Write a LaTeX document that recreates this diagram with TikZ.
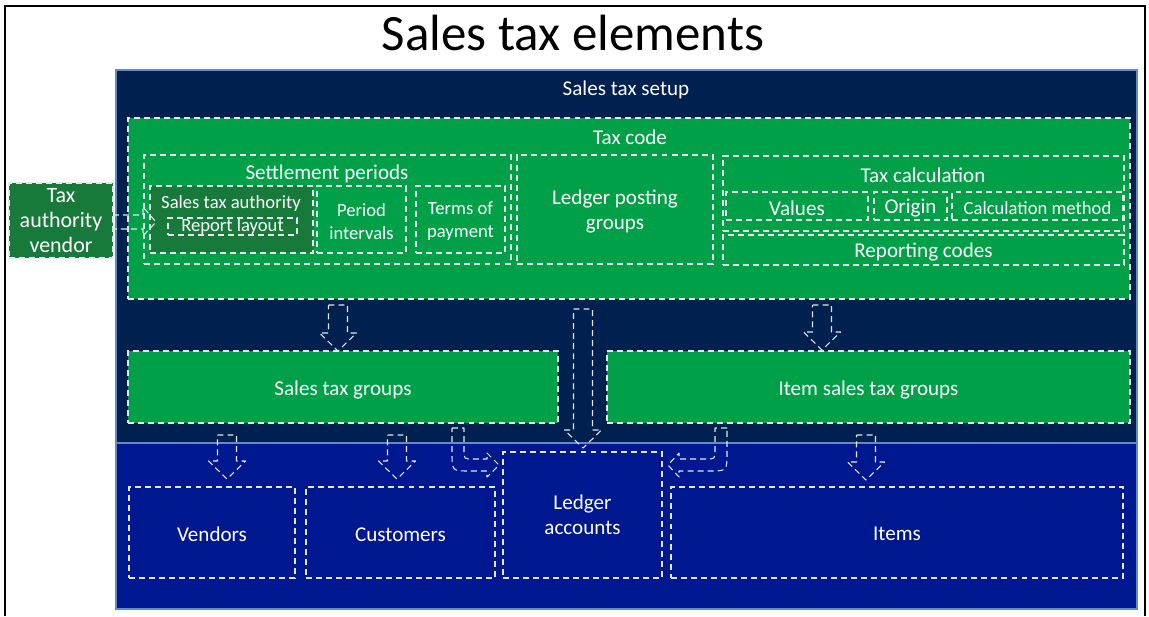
\documentclass[tikz,border=0pt]{standalone}
\usepackage{fontspec}
\setmainfont{Carlito}
\usetikzlibrary{positioning,calc,fit}
\definecolor{setupnavy}{RGB}{0,32,80}
\definecolor{acctblue}{RGB}{0,24,143}
\definecolor{codegreen}{RGB}{0,160,72}
\definecolor{authgreen}{RGB}{24,122,58}
\definecolor{dashwhite}{RGB}{228,232,236}
\definecolor{edgeblue}{RGB}{100,140,190}
% hollow dashed block arrow pointing down: x, y of top, y of tip
\newcommand{\blockdown}[3]{%
  \draw[blockarrow] (#1-9.5,#2) -- (#1+9.5,#2) -- (#1+9.5,#3-18) -- (#1+18.5,#3-18)
    -- (#1,#3) -- (#1-18.5,#3-18) -- (#1-9.5,#3-18) -- cycle;}

\begin{document}
\begin{tikzpicture}[x=0.02cm, y=-0.02cm,
    every node/.style={text=white, font=\fontsize{12}{14}\selectfont, align=center},
    region/.style={draw=edgeblue, line width=0.6pt, inner sep=0pt},
    dbox/.style={draw=dashwhite, dash pattern=on 3.4pt off 2.3pt, line width=0.6pt, inner sep=0pt},
    small/.style={font=\fontsize{10.6}{13}\selectfont},
    blockarrow/.style={draw=dashwhite, dash pattern=on 3.4pt off 2.3pt, line width=0.6pt, line join=round}
]
\useasboundingbox (0,0) rectangle (1149,616);
\draw[line width=1.2pt] (5,616) |- (1145,6) -- (1145,616);
\node[text=black, font=\fontsize{29}{34}\selectfont] (title) at (573,33) {Sales tax elements};

% setup and accounts regions
\node[region, fill=setupnavy, fit={(116,70) (1137,443)}] (setup) {};
\node[region, fill=acctblue, fit={(116,443) (1137,609)}] (accounts) {};
\node (setuplbl) at (626,90) {Sales tax setup};

% tax code
\node[dbox, fill=codegreen, fit={(128,118) (1130,299)}] (taxcode) {};
\node (taxcodelbl) at (630,137) {Tax code};

\node[dbox, fit={(144,155) (511,264)}] (settle) {};
\node (settlelbl) at (327,174) {Settlement periods};
\node[dbox, fill=authgreen, fit={(150,186) (313,253)}] (authority) {};
\node[small] (authlbl) at (231,204) {Sales tax authority};
\node[dbox, fit={(168,218) (297,235)}] (report) {};
\node[small] at (report) {Report layout};
\node[dbox, fit={(317,186) (406,253)}] (period) {};
\node[small] at ([yshift=-1pt]period) {Period\\intervals};
\node[dbox, fit={(416,186) (505,253)}] (terms) {};
\node[small] at ([yshift=-1pt]terms) {Terms of\\payment};

\node[dbox, fit={(517,155) (713,264)}] (posting) {};
\node at ([yshift=-1pt]posting) {Ledger posting\\groups};

\node[dbox, fit={(723,156) (1124,231)}] (calc) {};
\node (calclbl) at (923,175) {Tax calculation};
\node[dbox, fit={(726,192) (868,220)}] (values) {};
\node at ([yshift=-1pt]values) {Values};
\node[dbox, fit={(874,192) (947,220)}] (origin) {};
\node at ([yshift=-1pt]origin) {Origin};
\node[dbox, fit={(952,192) (1123,220)}] (method) {};
\node[small] at ([yshift=-1pt]method) {Calculation method};
\node[dbox, fit={(723,235) (1124,265)}] (reporting) {};
\node at ([yshift=-1pt]reporting) {Reporting codes};

% vendor outside the setup
\node[dbox, fill=authgreen, fit={(9,183) (113,258)}] (vendor) {};
\node[font=\fontsize{12.5}{14.5}\selectfont] at (vendor) {Tax\\authority\\vendor};

% tax groups
\node[dbox, fill=codegreen, fit={(128,351) (558,423)}] (stgroups) {};
\node at ([yshift=-1.5pt]stgroups) {Sales tax groups};
\node[dbox, fill=codegreen, fit={(607,351) (1130,423)}] (itemgroups) {};
\node at ([yshift=-1.5pt]itemgroups) {Item sales tax groups};

% accounts row
\node[dbox, fit={(129,487) (295,578)}] (vendors) {};
\node at ([yshift=-1pt]vendors) {Vendors};
\node[dbox, fit={(306,487) (495,578)}] (customers) {};
\node at ([yshift=-1pt]customers) {Customers};
\node[dbox, fit={(503,452) (662,578)}] (ledger) {};
\node at (ledger) {Ledger\\accounts};
\node[dbox, fit={(671,487) (1123,578)}] (items) {};
\node at ([yshift=-1pt]items) {Items};

% block arrows
\draw[blockarrow] (113,215) -- (143,215) -- (143,207) -- (156,222) -- (143,236) -- (143,229) -- (113,229) -- cycle;
\blockdown{338}{305}{351}
\blockdown{822}{305}{350}
\blockdown{583}{309}{448}
\blockdown{227}{435}{479}
\blockdown{397}{435}{479}
\blockdown{866}{435}{480}
\draw[blockarrow] (452,428) -- (464,428) -- (464,450) .. controls (464,459) .. (473,459) -- (487,459)
  -- (487,453) -- (499,465) -- (487,477) -- (487,471) -- (470,471) .. controls (452,471) .. (452,453) -- cycle;
\draw[blockarrow] (727,428) -- (715,428) -- (715,450) .. controls (715,459) .. (706,459) -- (679,459)
  -- (679,453) -- (668,465) -- (679,477) -- (679,471) -- (709,471) .. controls (727,471) .. (727,453) -- cycle;
\end{tikzpicture}
\end{document}
